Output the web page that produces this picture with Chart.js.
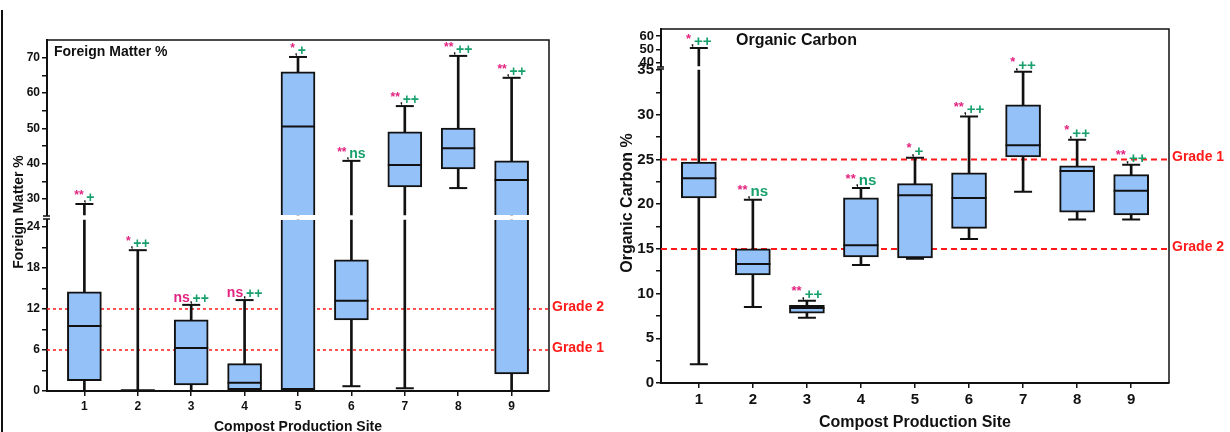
<!DOCTYPE html>
<html>
<head>
<meta charset="utf-8">
<script src="https://cdn.jsdelivr.net/npm/chart.js@4.4.1/dist/chart.umd.min.js"></script>
<style>
  html, body { margin: 0; padding: 0; background: #fff; }
  #page { position: relative; width: 1230px; height: 432px; overflow: hidden; }
  .panel { position: absolute; top: 0; height: 432px; }
  #edge { position: absolute; left: 1px; top: 10px; width: 2px; height: 422px; background: #111; }
</style>
</head>
<body>
<div id="page">
  <div id="edge"></div>
  <div class="panel" style="left:0;width:610px"><canvas id="fm" width="610" height="432"></canvas></div>
  <div class="panel" style="left:610px;width:620px"><canvas id="oc" width="620" height="432"></canvas></div>
</div>
<script>
const sites = [1, 2, 3, 4, 5, 6, 7, 8, 9];

// Foreign Matter % (left panel)
const fmMin    = [0,    0,    0,    0,    0,    0.7,  0.4,  33.1, 0];
const fmQ1     = [1.5,  0.1,  0.9,  0.2,  0.2,  10.4, 33.4, 38.5, 2.5];
const fmMedian = [9.5,  0.1,  6.3,  1.2,  50.5, 13.2, 39.6, 44.4, 35.4];
const fmQ3     = [14.5, 0.1,  10.4, 4.0,  66.0, 19.2, 49.0, 50.1, 40.8];
const fmMax    = [28.6, 20.6, 12.6, 13.3, 70.2, 40.8, 56.3, 70.5, 64.3];
const fmSigA   = ['**', '*', 'ns', 'ns', '*', '**', '**', '**', '**'];
const fmSigB   = ['+', '++', '++', '++', '+', 'ns', '++', '++', '++'];
const fmGrades = [12, 6];
const fmGradeNames = ['Grade 2', 'Grade 1'];
const fmTicksLow  = [0, 6, 12, 18, 24];
const fmMinorLow  = [3, 9, 15, 21];
const fmTicksHigh = [30, 40, 50, 60, 70];
const fmMinorHigh = [35, 45, 55, 65];

// Organic Carbon (right panel)
const ocMin    = [2.1,  8.5,  7.3, 13.2, 13.9, 16.1, 21.4, 18.3, 18.3];
const ocQ1     = [20.7, 12.1, 7.8, 14.1, 14.0, 17.3, 25.3, 19.1, 18.8];
const ocMedian = [22.9, 13.3, 8.4, 15.4, 21.0, 20.7, 26.6, 23.7, 21.5];
const ocQ3     = [24.7, 15.0, 8.7, 20.7, 22.3, 23.5, 31.1, 24.3, 23.3];
const ocMax    = [51.0, 20.5, 9.2, 21.8, 25.2, 29.8, 34.8, 27.2, 24.4];
const ocSigA   = ['*', '**', '**', '**', '*', '**', '*', '*', '**'];
const ocSigB   = ['++', 'ns', '++', 'ns', '+', '++', '++', '++', '++'];
const ocGrades = [25, 15];
const ocGradeNames = ['Grade 1', 'Grade 2'];
const ocTicksLow  = [0, 5, 10, 15, 20, 25, 30, 35];
const ocMinorLow  = [2.5, 7.5, 12.5, 17.5, 22.5, 27.5, 32.5];
const ocTicksHigh = [40, 50, 60];
const ocMinorHigh = [];

const INK = '#111';
const FILL = '#94c1f8';
const PINK = '#e2237f';
const GREEN = '#17a06b';
const RED = '#ff1a1a';
const X_MIN = 0.3, X_MAX = 9.7;

Chart.defaults.font.family = "'Liberation Sans', Arial, sans-serif";
Chart.defaults.color = INK;

function drawSig(ctx, x, y, a, b, k) {
  const parts = [
    { t: a, c: PINK, size: a === 'ns' ? 14 * k : 12 * k, dy: a === 'ns' ? 3 : 5 },
    { t: ',', c: INK, size: 10 * k, dy: 2 },
    { t: b, c: GREEN, size: 14 * k, dy: b === 'ns' ? 3 : 2 }
  ];
  let w = 0;
  parts.forEach(p => {
    ctx.font = 'bold ' + p.size + 'px ' + Chart.defaults.font.family;
    p.w = ctx.measureText(p.t).width;
    w += p.w;
  });
  let cx = x - w / 2;
  ctx.textAlign = 'left';
  ctx.textBaseline = 'alphabetic';
  parts.forEach(p => {
    ctx.font = 'bold ' + p.size + 'px ' + Chart.defaults.font.family;
    ctx.fillStyle = p.c;
    ctx.fillText(p.t, cx, y - p.dy * k);
    cx += p.w;
  });
}

function boxPanel(id, d, look) {
  const datasets = [];
  const scales = {
    x: {
      type: 'linear', min: X_MIN, max: X_MAX, offset: false,
      afterBuildTicks: s => { s.ticks = sites.map(v => ({ value: v })); },
      afterFit: s => { s.height = look.xAxisH; },
      grid: { drawOnChartArea: false, offset: false, color: INK, tickLength: 5, lineWidth: 1.5 },
      border: { color: INK, width: 2 },
      ticks: { color: INK, autoSkip: false, maxRotation: 0, padding: 3,
               font: { size: look.tickFont, weight: 'bold' } }
    }
  };
  const lowSeg = look.segs[0];
  const highSeg = look.segs[1];

  // stacked axes: the last one added goes on top
  look.segs.forEach(seg => {
    const inSeg = v => v >= seg.lo && v <= seg.hi;
    const piece = (a, b) => {
      const lo = Math.max(a, seg.lo), hi = Math.min(b, seg.hi);
      return lo <= hi ? [lo, hi] : null;
    };
    scales[seg.id] = {
      type: 'linear', position: 'left', stack: 'y', stackWeight: seg.weight,
      min: seg.axisMin, max: seg.axisMax,
      afterBuildTicks: s => {
        s.ticks = seg.major.concat(seg.minor).sort((p, q) => p - q).map(v => ({ value: v }));
      },
      afterFit: s => { s.width = look.yAxisW; },
      grid: { drawOnChartArea: false, color: INK, tickLength: 5, lineWidth: 1.5 },
      border: { color: INK, width: 2 },
      ticks: { color: INK, autoSkip: false, padding: 2,
               font: { size: seg.font, weight: 'bold' },
               callback: v => seg.major.includes(v) ? String(v) : '' }
    };

    datasets.push({
      type: 'bar', yAxisID: seg.id, order: 3, grouped: false,
      barThickness: 2, backgroundColor: INK, borderWidth: 0,
      data: sites.map((s, i) => ({ x: s, y: piece(d.min[i], d.max[i]) })).filter(p => p.y)
    });
    datasets.push({
      type: 'bar', yAxisID: seg.id, order: 2, grouped: false,
      barThickness: look.box, backgroundColor: FILL, borderColor: INK, borderWidth: 2,
      borderSkipped: c => (c.raw && c.raw.skip) || false,
      data: sites.map((s, i) => {
        const p = piece(d.q1[i], d.q3[i]);
        if (!p) return null;
        const skip = d.q3[i] > seg.hi ? 'top' : (d.q1[i] < seg.lo ? 'bottom' : false);
        return { x: s, y: p, skip: skip };
      }).filter(Boolean)
    });
    datasets.push({
      type: 'scatter', yAxisID: seg.id, order: 1,
      pointStyle: 'line', pointRadius: look.box / 2, pointHoverRadius: look.box / 2,
      pointBorderColor: INK, pointBorderWidth: 2,
      data: sites.map((s, i) => ({ x: s, y: d.med[i] })).filter(p => inSeg(p.y))
    });
    datasets.push({
      type: 'scatter', yAxisID: seg.id, order: 1,
      pointStyle: 'line', pointRadius: 9, pointHoverRadius: 9,
      pointBorderColor: INK, pointBorderWidth: 2,
      data: sites.flatMap((s, i) => [{ x: s, y: d.min[i] }, { x: s, y: d.max[i] }]).filter(p => inSeg(p.y))
    });
  });

  d.grades.forEach(g => {
    datasets.push({
      type: 'line', yAxisID: lowSeg.id, order: 4,
      borderColor: RED, borderWidth: look.gradeW, borderDash: look.gradeDash,
      pointRadius: 0, data: [{ x: X_MIN, y: g }, { x: X_MAX, y: g }]
    });
  });

  const decor = {
    id: 'decor',
    afterDraw(chart) {
      const ctx = chart.ctx;
      const a = chart.chartArea;
      const hi = chart.scales[highSeg.id];
      const lo = chart.scales[lowSeg.id];
      const xs = chart.scales.x;
      const fam = Chart.defaults.font.family;
      ctx.save();

      // frame top / right
      ctx.strokeStyle = INK;
      ctx.lineWidth = 1.5;
      ctx.beginPath();
      ctx.moveTo(a.left, a.top);
      ctx.lineTo(a.right, a.top);
      ctx.lineTo(a.right, a.bottom);
      ctx.stroke();

      // axis break
      const yTop = hi.getPixelForValue(highSeg.lo);
      const yBot = lo.getPixelForValue(lowSeg.hi);
      ctx.fillStyle = '#fff';
      ctx.fillRect(a.left - 4, yTop + 1, 8, yBot - yTop - 2);
      ctx.lineWidth = 1.5;
      ctx.beginPath();
      ctx.moveTo(a.left - 4, yTop + 1); ctx.lineTo(a.left + 3, yTop + 1);
      ctx.moveTo(a.left - 4, yBot - 1); ctx.lineTo(a.left + 3, yBot - 1);
      ctx.stroke();

      // significance marks
      sites.forEach((s, i) => {
        const m = d.max[i];
        const sc = m > lowSeg.hi ? hi : lo;
        drawSig(ctx, xs.getPixelForValue(s), sc.getPixelForValue(m), d.sigA[i], d.sigB[i], look.k);
      });

      // grade labels
      ctx.fillStyle = RED;
      ctx.textAlign = 'left';
      ctx.textBaseline = 'middle';
      ctx.font = 'bold ' + look.gradeFont + 'px ' + fam;
      d.grades.forEach((g, i) => {
        ctx.fillText(d.gradeNames[i], a.right + 3, lo.getPixelForValue(g) - 2);
      });

      // titles
      ctx.fillStyle = INK;
      ctx.font = 'bold ' + look.titleFont + 'px ' + fam;
      ctx.fillText(d.title, look.titleX, look.titleY);
      ctx.textAlign = 'center';
      ctx.font = 'bold ' + look.axisFont + 'px ' + fam;
      ctx.fillText('Compost Production Site', (a.left + a.right) / 2, look.xTitleY);
      ctx.translate(look.yTitleX, look.yTitleY);
      ctx.rotate(-Math.PI / 2);
      ctx.fillText(d.yTitle, 0, 0);
      ctx.restore();
    }
  };

  return new Chart(document.getElementById(id), {
    type: 'bar',
    data: { datasets: datasets },
    options: {
      responsive: false,
      animation: false,
      layout: { padding: { left: 0, top: look.top, right: look.right, bottom: 0 } },
      plugins: { legend: { display: false }, tooltip: { enabled: false } },
      scales: scales
    },
    plugins: [decor]
  });
}

boxPanel('fm', {
  min: fmMin, q1: fmQ1, med: fmMedian, q3: fmQ3, max: fmMax,
  sigA: fmSigA, sigB: fmSigB, grades: fmGrades, gradeNames: fmGradeNames,
  title: 'Foreign Matter %', yTitle: 'Foreign Matter %'
}, {
  top: 40, right: 61, yAxisW: 47, xAxisH: 41, box: 34, k: 1,
  tickFont: 12, titleFont: 14, axisFont: 14, gradeFont: 14,
  gradeW: 1.5, gradeDash: [3, 3],
  titleX: 54, titleY: 52, xTitleY: 427, yTitleX: 19, yTitleY: 212,
  segs: [
    { id: 'yLow', axisMin: 0, axisMax: 25.6, lo: 0, hi: 25, weight: 175, font: 12,
      major: fmTicksLow, minor: fmMinorLow },
    { id: 'yHigh', axisMin: 25.2, axisMax: 75, lo: 25.5, hi: 75, weight: 176, font: 12,
      major: fmTicksHigh, minor: fmMinorHigh }
  ]
});

boxPanel('oc', {
  min: ocMin, q1: ocQ1, med: ocMedian, q3: ocQ3, max: ocMax,
  sigA: ocSigA, sigB: ocSigB, grades: ocGrades, gradeNames: ocGradeNames,
  title: 'Organic Carbon', yTitle: 'Organic Carbon %'
}, {
  top: 29, right: 61, yAxisW: 51, xAxisH: 49, box: 35, k: 1.08,
  tickFont: 15, titleFont: 16, axisFont: 16, gradeFont: 14,
  gradeW: 2, gradeDash: [6, 4],
  titleX: 126, titleY: 41, xTitleY: 423, yTitleX: 18, yTitleY: 203,
  segs: [
    { id: 'yLow', axisMin: 0, axisMax: 35.4, lo: 0, hi: 35, weight: 316.5, font: 15,
      major: ocTicksLow, minor: ocMinorLow },
    { id: 'yHigh', axisMin: 37, axisMax: 65.4, lo: 37.3, hi: 65.4, weight: 37.5, font: 13,
      major: ocTicksHigh, minor: ocMinorHigh }
  ]
});
</script>
</body>
</html>
